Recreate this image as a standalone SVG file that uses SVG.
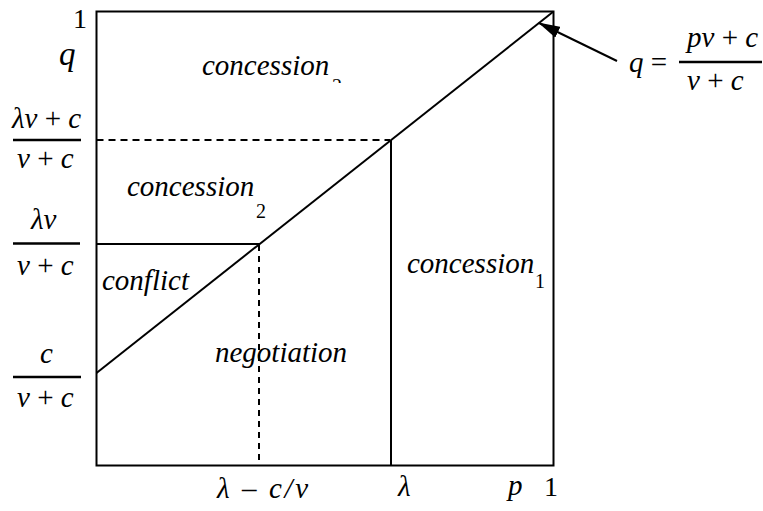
<svg xmlns="http://www.w3.org/2000/svg" width="763" height="511" viewBox="0 0 763 511" font-family="'Liberation Serif', 'Times New Roman', serif">
<style>
text{font-family:'Liberation Serif','Times New Roman',serif;fill:#000}
.it{font-style:italic;font-size:29px}
.sub{font-size:20px;font-style:normal}
.num{font-size:28px;font-style:normal}
.ln{stroke:#000;stroke-width:2;fill:none}
.dash{stroke:#000;stroke-width:2;fill:none;stroke-dasharray:7,5}
.bar{stroke:#000;stroke-width:2.5}
</style>
<defs>
<marker id="ah" markerUnits="userSpaceOnUse" markerWidth="22" markerHeight="12" refX="21" refY="6" orient="auto">
<path d="M0,0 L22,6 L0,12 z" fill="#000"/>
</marker>
<clipPath id="cut"><rect x="320" y="60" width="30" height="23"/></clipPath>
</defs>
<g id="connectors">
<rect class="ln" x="96.5" y="11.5" width="457" height="454"/>
<line class="ln" x1="96.5" y1="373" x2="553.5" y2="11.5"/>
<line class="dash" x1="96.5" y1="140" x2="390" y2="140"/>
<line class="ln" x1="96.5" y1="244" x2="260" y2="244"/>
<line class="dash" x1="259" y1="245" x2="259" y2="465" style="stroke-dasharray:6,5"/>
<line class="ln" x1="391" y1="140" x2="391" y2="465"/>
<line class="ln" x1="617" y1="61" x2="539" y2="23" stroke-width="1.6" marker-end="url(#ah)"/>
</g>
<g id="axis-labels">
<text class="num" x="73" y="28">1</text>
<text class="it" x="59" y="65" style="font-size:33px">q</text>
<text class="it" x="217" y="498" textLength="91" lengthAdjust="spacing">λ <tspan font-style="normal">–</tspan> c/v</text>
<text class="it" x="398" y="496">λ</text>
<text class="it" x="508" y="495">p</text>
<text class="num" x="544" y="496">1</text>
</g>
<g id="frac-lambda-v-c">
<text class="it" x="12" y="128">λv <tspan font-style="normal">+</tspan> c</text>
<line class="bar" x1="13" y1="140" x2="81" y2="140"/>
<text class="it" x="17" y="168">v <tspan font-style="normal">+</tspan> c</text>
</g>
<g id="frac-lambda-v">
<text class="it" x="31" y="229">λv</text>
<line class="bar" x1="13" y1="243.5" x2="80" y2="243.5"/>
<text class="it" x="17" y="275">v <tspan font-style="normal">+</tspan> c</text>
</g>
<g id="frac-c">
<text class="it" x="40" y="363">c</text>
<line class="bar" x1="13" y1="377" x2="81" y2="377"/>
<text class="it" x="17" y="407">v <tspan font-style="normal">+</tspan> c</text>
</g>
<g id="formula">
<text class="it" x="629" y="72">q <tspan font-style="normal">=</tspan></text>
<text class="it" x="687" y="47">pv <tspan font-style="normal">+</tspan> c</text>
<line class="bar" x1="679" y1="62" x2="762" y2="62"/>
<text class="it" x="687" y="90">v <tspan font-style="normal">+</tspan> c</text>
</g>
<g id="region-concession2-top">
<text class="it" x="202" y="75">concession</text>
<text class="sub" x="332" y="93" clip-path="url(#cut)">2</text>
</g>
<g id="region-concession2-mid">
<text class="it" x="127" y="196">concession</text>
<text class="sub" x="256" y="218">2</text>
</g>
<g id="region-conflict">
<text class="it" x="102" y="290">conflict</text>
</g>
<g id="region-negotiation">
<text class="it" x="215" y="362">negotiation</text>
</g>
<g id="region-concession1">
<text class="it" x="407" y="273">concession</text>
<text class="sub" x="535" y="288">1</text>
</g>
</svg>
